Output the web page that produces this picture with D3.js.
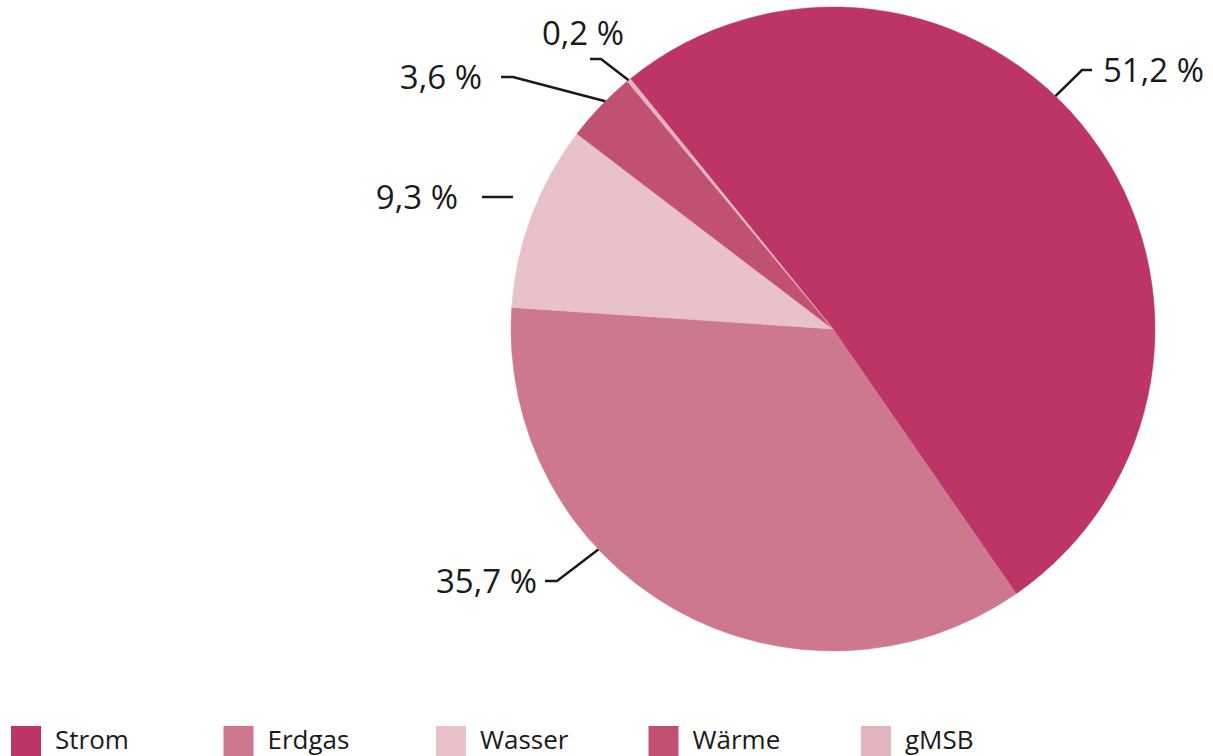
<!DOCTYPE html>
<html><head><meta charset="utf-8">
<script src="https://cdn.jsdelivr.net/npm/d3@7"></script>
<style>body{margin:0;background:#fff;}svg{display:block;font-family:"Open Sans",sans-serif;}</style>
</head><body><svg id="c" width="1213" height="756"></svg>
<script>
const categories = ["Strom","Erdgas","Wasser","Wärme","gMSB"];
const values = [51.2, 35.7, 9.3, 3.6, 0.2];
const labels = ["51,2 %","35,7 %","9,3 %","3,6 %","0,2 %"];
const colors = ["#BD3567","#CD788D","#E8C1C9","#C05170","#E3B4BE"];

// leader layout (angle on rim in degrees, elbow & end points relative to centre)
const leaderLayout = [
  {a:43.7,  elbow:[249,-259], end:[259,-259], anchor:"start", tx:270, ty:-259},
  {a:-133.2,elbow:[-276,252], end:[-288,252], anchor:"end", tx:-296, ty:252},
  {a:null,  from:[-320,-132], elbow:[-351,-132], end:[-351,-132], anchor:"end", tx:-375, ty:-132},
  {a:-45,   elbow:[-320,-252], end:[-332,-252], anchor:"end", tx:-351, ty:-252},
  {a:-39.4, elbow:[-232,-270], end:[-243,-270], anchor:"middle", tx:-250, ty:-296}
];

const svg = d3.select("#c");
const cx = 833, cy = 329, R = 322;
const g = svg.append("g").attr("transform",`translate(${cx},${cy})`);
const startA = -39 * Math.PI/180;
const pie = d3.pie().sort(null).value(d=>d).startAngle(startA).endAngle(startA + 2*Math.PI);
const arc = d3.arc().innerRadius(0).outerRadius(R);
const arcs = pie(values);
g.selectAll("path.s").data(arcs).join("path").attr("class","s")
  .attr("d",arc).attr("fill",(d,i)=>colors[i]).attr("stroke",(d,i)=>colors[i]).attr("stroke-width",0.5);

arcs.forEach((d,i)=>{
  const L = leaderLayout[i];
  let p0;
  if (L.a!==null){ const a=L.a*Math.PI/180; p0=[R*Math.sin(a), -R*Math.cos(a)]; }
  else p0 = L.from;
  g.append("path").attr("d",d3.line()([p0,L.elbow,L.end])).attr("fill","none")
    .attr("stroke","#1a1a1a").attr("stroke-width",2.5);
  g.append("text").attr("x",L.tx).attr("y",L.ty+12).attr("text-anchor",L.anchor)
    .attr("font-size",33).attr("fill","#1a1a1a").text(labels[i]);
});

const leg = svg.append("g");
const x0 = 11, step = 212.5;
categories.forEach((c,i)=>{
  const lg = leg.append("g").attr("transform",`translate(${x0+i*step},726)`);
  lg.append("rect").attr("width",30).attr("height",30).attr("fill",colors[i]);
  lg.append("text").attr("x",44).attr("y",23).attr("font-size",26).attr("fill","#1a1a1a").text(c);
});
</script></body></html>
